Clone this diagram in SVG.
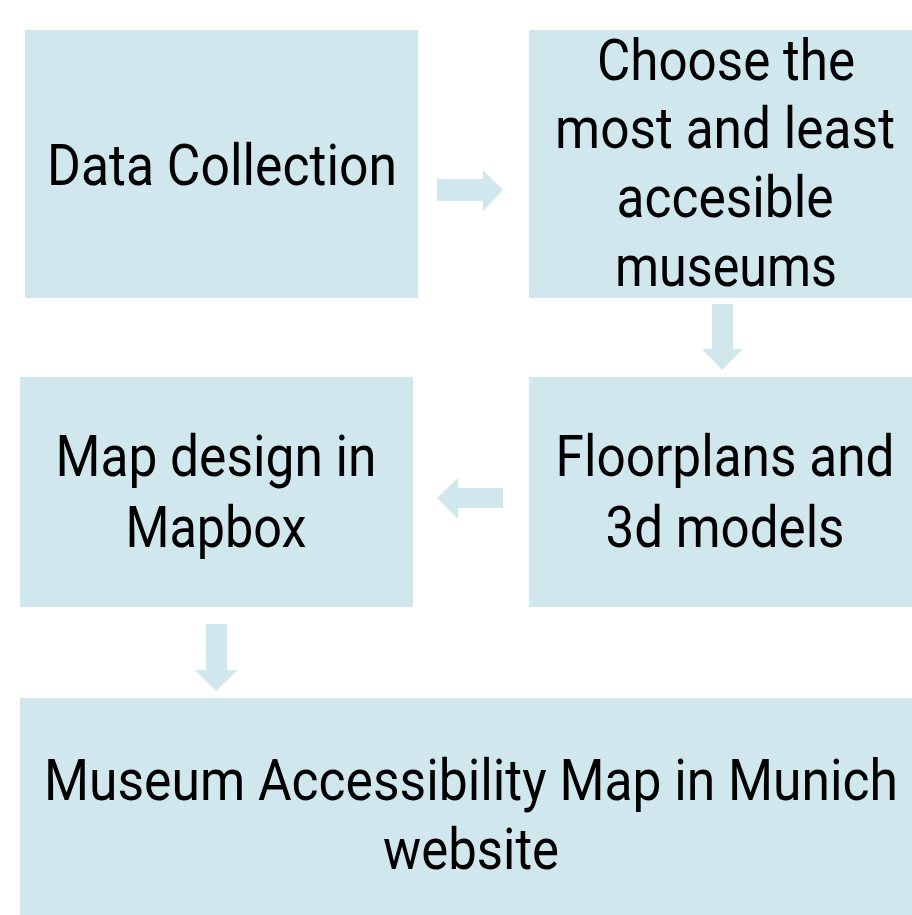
<svg xmlns="http://www.w3.org/2000/svg" width="912" height="915" viewBox="0 0 912 915">
<style>
.box{fill:#d1e7ee}
.arr{fill:#d1e7ee}
text{font-family:Roboto,"Liberation Sans",sans-serif;font-size:58px;fill:#000;text-anchor:middle}
</style>
<rect width="912" height="915" fill="#fff"/>
<g id="connectors">
<polygon class="arr" points="437,179 483,179 483,170 503,190 483,211 483,201 437,201"/>
<polygon class="arr" points="712,304 733,304 733,349 743,349 722,370 702,349 712,349"/>
<polygon class="arr" points="503,488 458,488 458,478 437,498 458,519 458,508 503,508"/>
<polygon class="arr" points="206,624 227,624 227,670 238,670 216,691 195,670 206,670"/>
</g>
<g id="n1"><rect class="box" x="25" y="30" width="393" height="268"/>
<text x="222" y="185" textLength="350" lengthAdjust="spacingAndGlyphs">Data Collection</text></g>
<g id="n2"><rect class="box" x="529" y="30" width="383" height="268"/>
<text x="726" y="80" textLength="258" lengthAdjust="spacingAndGlyphs">Choose the</text>
<text x="725" y="148" textLength="340" lengthAdjust="spacingAndGlyphs">most and least</text>
<text x="725" y="217" textLength="217" lengthAdjust="spacingAndGlyphs">accesible</text>
<text x="726" y="286" textLength="222" lengthAdjust="spacingAndGlyphs">museums</text></g>
<g id="n3"><rect class="box" x="20" y="377" width="393" height="230"/>
<text x="216" y="476" textLength="321" lengthAdjust="spacingAndGlyphs">Map design in</text>
<text x="216" y="547" textLength="181" lengthAdjust="spacingAndGlyphs">Mapbox</text></g>
<g id="n4"><rect class="box" x="529" y="377" width="383" height="230"/>
<text x="725" y="476" textLength="339" lengthAdjust="spacingAndGlyphs">Floorplans and</text>
<text x="725" y="547" textLength="239" lengthAdjust="spacingAndGlyphs">3d models</text></g>
<g id="n5"><rect class="box" x="20" y="698" width="892" height="217"/>
<text x="471" y="800" textLength="854" lengthAdjust="spacingAndGlyphs">Museum Accessibility Map in Munich</text>
<text x="471" y="869" textLength="176" lengthAdjust="spacingAndGlyphs">website</text></g>
</svg>
